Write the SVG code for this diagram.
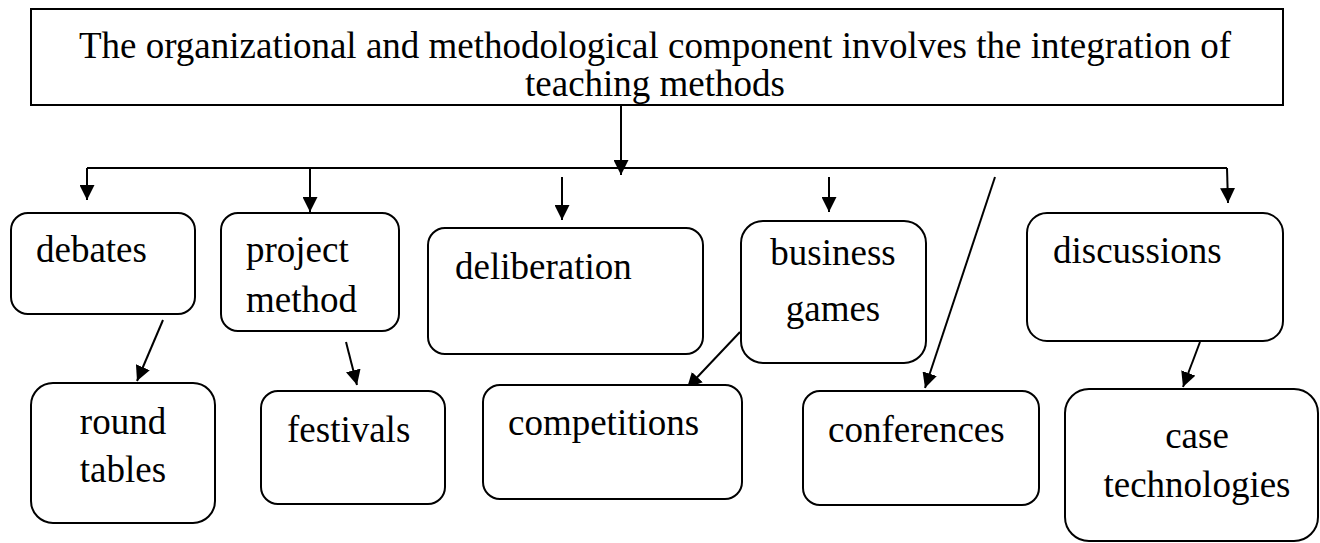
<svg xmlns="http://www.w3.org/2000/svg" width="1320" height="543" viewBox="0 0 1320 543">
<style>
.box{fill:#fff;stroke:#000;stroke-width:2}
.t{font-family:"Liberation Serif","Times New Roman",serif;font-size:37px;fill:#000}
.c{text-anchor:middle}
.ln{stroke:#000;stroke-width:2;fill:none}
</style>
<defs>
<marker id="ah" viewBox="0 0 10 10" refX="10" refY="5" markerWidth="7.5" markerHeight="7.5" markerUnits="strokeWidth" orient="auto">
<path d="M0,0 L10,5 L0,10 z" fill="#000"/>
</marker>
</defs>
<rect width="1320" height="543" fill="#fff"/>
<g id="top">
<rect class="box" x="31" y="9" width="1252" height="96"/>
<text class="t c" x="655" y="58">The organizational and methodological component involves the integration of</text>
<text class="t c" x="655" y="96">teaching methods</text>
</g>
<g id="connectors">
<path class="ln" d="M621,105 V175" marker-end="url(#ah)"/>
<path class="ln" d="M87,168 H1227"/>
<path class="ln" d="M87,168 V200" marker-end="url(#ah)"/>
<path class="ln" d="M310,168 V212" marker-end="url(#ah)"/>
<path class="ln" d="M562,177 V220" marker-end="url(#ah)"/>
<path class="ln" d="M829,177 V212" marker-end="url(#ah)"/>
<path class="ln" d="M1227,168 L1228,203" marker-end="url(#ah)"/>
<path class="ln" d="M995,177 L925,388" marker-end="url(#ah)"/>
<path class="ln" d="M163,320 L137,381" marker-end="url(#ah)"/>
<path class="ln" d="M346,342 L357,385" marker-end="url(#ah)"/>
<path class="ln" d="M740,332 L687,388" marker-end="url(#ah)"/>
<path class="ln" d="M1200,342 L1183,387" marker-end="url(#ah)"/>
</g>
<g id="debates">
<rect class="box" x="11" y="213" width="184" height="101" rx="17"/>
<text class="t" x="36" y="262">debates</text>
</g>
<g id="project-method">
<rect class="box" x="221" y="213" width="178" height="118" rx="17"/>
<text class="t" x="246" y="262">project</text>
<text class="t" x="246" y="312">method</text>
</g>
<g id="deliberation">
<rect class="box" x="428" y="228" width="275" height="126" rx="17"/>
<text class="t" x="455" y="279">deliberation</text>
</g>
<g id="business-games">
<rect class="box" x="741" y="221" width="185" height="142" rx="22"/>
<text class="t c" x="833" y="265">business</text>
<text class="t c" x="833" y="321">games</text>
</g>
<g id="discussions">
<rect class="box" x="1027" y="213" width="256" height="128" rx="20"/>
<text class="t" x="1053" y="263">discussions</text>
</g>
<g id="round-tables">
<rect class="box" x="31" y="383" width="184" height="140" rx="22"/>
<text class="t c" x="123" y="434">round</text>
<text class="t c" x="123" y="482">tables</text>
</g>
<g id="festivals">
<rect class="box" x="261" y="391" width="184" height="113" rx="17"/>
<text class="t" x="287" y="442">festivals</text>
</g>
<g id="competitions">
<rect class="box" x="483" y="385" width="259" height="114" rx="17"/>
<text class="t" x="508" y="435">competitions</text>
</g>
<g id="conferences">
<rect class="box" x="803" y="391" width="236" height="114" rx="17"/>
<text class="t" x="828" y="442">conferences</text>
</g>
<g id="case-technologies">
<rect class="box" x="1065" y="389" width="253" height="152" rx="24"/>
<text class="t c" x="1197" y="448">case</text>
<text class="t c" x="1197" y="497">technologies</text>
</g>
</svg>
